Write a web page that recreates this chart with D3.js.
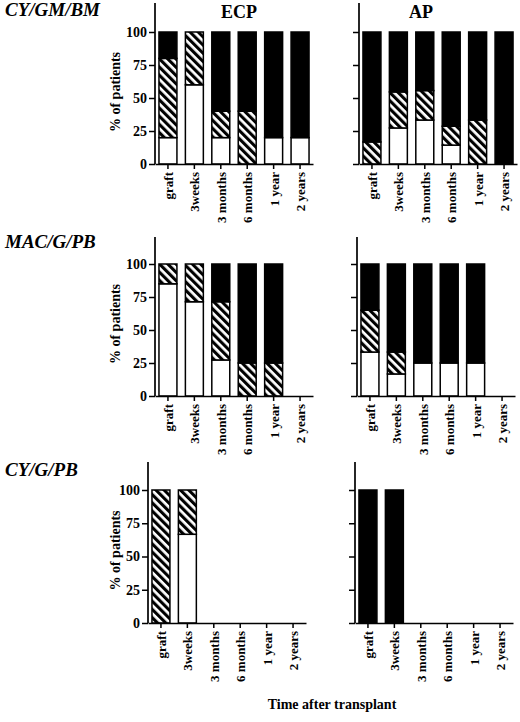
<!DOCTYPE html>
<html><head><meta charset="utf-8">
<script src="https://cdn.jsdelivr.net/npm/d3@7"></script>
<style>body{margin:0;background:#fff}svg{display:block}</style>
</head><body>
<script>
const categories = ["graft", "3weeks", "3 months", "6 months", "1 year", "2 years"];
const yTicks = [0, 25, 50, 75, 100];
const rowTitles = ["CY/GM/BM", "MAC/G/PB", "CY/G/PB"];
const colTitles = ["ECP", "AP"];

// segment heights (%): white (bottom), hatched (middle), black (top); null = no bar
const ecpCYGMBMWhite   = [20, 60, 20, 0, 20, 20];
const ecpCYGMBMHatched = [60, 40, 20, 40, 0, 0];
const ecpCYGMBMBlack   = [20, 0, 60, 60, 80, 80];

const apCYGMBMWhite   = [0, 27.3, 33.3, 14.3, 0, 0];
const apCYGMBMHatched = [16.7, 27.3, 22.3, 14.3, 33.3, 0];
const apCYGMBMBlack   = [83.3, 45.4, 44.4, 71.4, 66.7, 100];

const ecpMACWhite   = [85, 71.4, 27.3, 0, 0, null];
const ecpMACHatched = [15, 28.6, 44.1, 25, 25, null];
const ecpMACBlack   = [0, 0, 28.6, 75, 75, null];

const apMACWhite   = [33.3, 16.7, 25, 25, 25, null];
const apMACHatched = [31.7, 16.6, 0, 0, 0, null];
const apMACBlack   = [35, 66.7, 75, 75, 75, null];

const ecpCYGWhite   = [0, 66.7, null, null, null, null];
const ecpCYGHatched = [100, 33.3, null, null, null, null];
const ecpCYGBlack   = [0, 0, null, null, null, null];

const apCYGWhite   = [0, 0, null, null, null, null];
const apCYGHatched = [0, 0, null, null, null, null];
const apCYGBlack   = [100, 100, null, null, null, null];

const panelData = [
  [[ecpCYGMBMWhite, ecpCYGMBMHatched, ecpCYGMBMBlack], [apCYGMBMWhite, apCYGMBMHatched, apCYGMBMBlack]],
  [[ecpMACWhite, ecpMACHatched, ecpMACBlack], [apMACWhite, apMACHatched, apMACBlack]],
  [[ecpCYGWhite, ecpCYGHatched, ecpCYGBlack], [apCYGWhite, apCYGHatched, apCYGBlack]]
];

// layout
const rows = [
  {base: 164, top: 32, axisTop: 3, titleY: 16, axX: [155, 359]},
  {base: 396, top: 264, axisTop: 237, titleY: 248, axX: [155, 357]},
  {base: 623, top: 490, axisTop: 462, titleY: 476, axX: [148, 355]}
];
const axisW = 158;
const serif = "Liberation Serif, Times New Roman, serif";

const svg = d3.select("body").append("svg").attr("width", 520).attr("height", 722)
  .attr("font-family", serif);

const defs = svg.append("defs");
const pat = defs.append("pattern").attr("id", "hatch").attr("patternUnits", "userSpaceOnUse")
  .attr("width", 5.8).attr("height", 5.8).attr("patternTransform", "rotate(-45)");
pat.append("rect").attr("width", 5.8).attr("height", 5.8).attr("fill", "#fff");
pat.append("rect").attr("width", 3.1).attr("height", 5.8).attr("fill", "#000");

const fills = ["#fff", "url(#hatch)", "#000"];

rows.forEach((r, ri) => {
  svg.append("text").attr("x", 5).attr("y", r.titleY)
    .attr("font-family", serif)
    .attr("font-size", 19).attr("font-weight", "bold").attr("font-style", "italic")
    .text(rowTitles[ri]);

  [0, 1].forEach(ci => {
    const ax = r.axX[ci];
    const x = d3.scaleBand().domain(categories).range([ax, ax + axisW])
      .paddingInner(0.32).paddingOuter(0.15);
    const y = d3.scaleLinear().domain([0, 100]).range([r.base, r.top]);
    const g = svg.append("g");

    const [wv, hv, bv] = panelData[ri][ci];
    const rowsData = categories.map((c, i) => ({cat: c, w: wv[i], h: hv[i], b: bv[i]}))
      .filter(d => d.w !== null);
    const stack = d3.stack().keys(["w", "h", "b"]);
    const series = stack(rowsData);

    series.forEach((s, si) => {
      g.selectAll(null).data(s.filter(d => d[1] - d[0] > 0)).enter().append("rect")
        .attr("x", d => x(d.data.cat))
        .attr("width", x.bandwidth())
        .attr("y", d => y(d[1]))
        .attr("height", d => y(d[0]) - y(d[1]))
        .attr("fill", fills[si])
        .attr("stroke", "#000").attr("stroke-width", 1.5);
    });

    // y axis
    const yAxis = d3.axisLeft(y).tickValues(yTicks).tickSize(6).tickPadding(2).tickSizeOuter(0);
    if (ci === 1) yAxis.tickFormat("");
    const ya = g.append("g").attr("transform", `translate(${ax},0)`).call(yAxis);
    ya.attr("font-family", serif);
    ya.select(".domain").remove();
    ya.selectAll("line").attr("stroke-width", 1.5);
    ya.selectAll("text").attr("font-size", 14).attr("font-weight", "bold")
      .attr("font-family", serif).attr("fill", "#000");
    g.append("line").attr("x1", ax).attr("x2", ax).attr("y1", r.axisTop).attr("y2", r.base)
      .attr("stroke", "#000").attr("stroke-width", 1.7);

    // x axis
    const xAxis = d3.axisBottom(x).tickSize(5).tickSizeOuter(0).tickPadding(3);
    const xa = g.append("g").attr("transform", `translate(0,${r.base})`).call(xAxis);
    xa.attr("font-family", serif);
    xa.select(".domain").attr("stroke-width", 1.7);
    xa.selectAll("line").attr("stroke-width", 1.5);
    xa.selectAll("text").attr("font-size", 13).attr("font-weight", "bold")
      .attr("font-family", serif).attr("fill", "#000")
      .attr("transform", "rotate(-90)")
      .attr("text-anchor", "end")
      .attr("x", -8).attr("y", 0).attr("dy", "0.38em");

    if (ci === 0) {
      svg.append("text")
        .attr("transform", `translate(120,${(r.base + r.top) / 2 - 6}) rotate(-90)`)
        .attr("font-family", serif)
        .attr("text-anchor", "middle").attr("font-size", 14).attr("font-weight", "bold")
        .text("% of patients");
    }
    if (ri === 0) {
      svg.append("text").attr("x", ci === 0 ? 239 : 421).attr("y", 18)
        .attr("font-family", serif)
        .attr("text-anchor", "middle").attr("font-size", 18).attr("font-weight", "bold")
        .text(colTitles[ci]);
    }
  });
});

svg.append("text").attr("x", 332).attr("y", 709).attr("text-anchor", "middle")
  .attr("font-family", serif)
  .attr("font-size", 14).attr("font-weight", "bold").text("Time after transplant");
</script>
</body></html>
